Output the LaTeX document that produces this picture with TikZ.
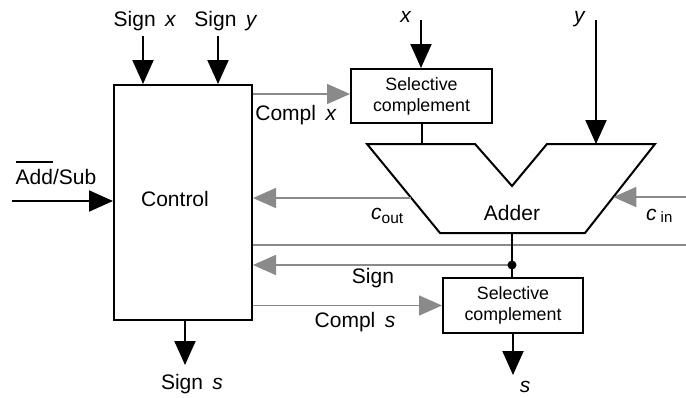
\documentclass[tikz,border=0pt]{standalone}
\usepackage{fontspec}
\setmainfont{Liberation Sans}
\usetikzlibrary{arrows.meta,calc}
\definecolor{grayc}{HTML}{8A8A8A}
\newcommand\lblgap{\hspace{0.45em}}
\begin{document}
\begin{tikzpicture}[x=1pt,y=-1pt,
 blk/.style={line width=2pt, -{Triangle[length=24pt,width=21pt]}},
 blkline/.style={line width=2pt},
 gry/.style={draw=grayc, color=grayc, line width=1.6pt, -{Triangle[length=23pt,width=20pt]}},
 grayline/.style={draw=grayc, line width=1.6pt},
 lbl/.style={font=\fontsize{21}{25}\selectfont, inner sep=0pt, anchor=base},
 box/.style={draw, line width=2pt, inner sep=0pt, font=\fontsize{17.8}{21}\selectfont, align=center},
]
\useasboundingbox (0,0) rectangle (686,397);

% blocks
\node[box, minimum width=138pt, minimum height=235pt] (ctrl) at (183,202.5) {};
\node[lbl] (ctrltxt) at (175,206.7) {Control};
\node[box, minimum width=141pt, minimum height=54pt] (sc1) at (421.5,96) {Selective\\complement};
\node[box, minimum width=140pt, minimum height=55pt] (sc2) at (513,305.5) {Selective\\complement};

% adder
\coordinate (a1) at (367,144);
\coordinate (a2) at (475,144);
\coordinate (a3) at (512,186);
\coordinate (a4) at (547,144);
\coordinate (a5) at (655,144);
\coordinate (a6) at (585,233);
\coordinate (a7) at (440,233);
\draw[blkline, line join=miter] (a1)--(a2)--(a3)--(a4)--(a5)--(a6)--(a7)--cycle;
\node[lbl] (ladd) at (512,220) {Adder};

% inputs to control
\coordinate (sxs) at (143,36);
\draw[blk] (sxs) -- (sxs |- ctrl.north);
\coordinate (sys) at (218,36);
\draw[blk] (sys) -- (sys |- ctrl.north);
\coordinate (as) at (12,201);
\draw[blk] (as) -- (as -| ctrl.west);

% x and y
\coordinate (xs) at (421,20);
\draw[blk] (xs) -- (xs |- sc1.north);
\coordinate (ys) at (596,20);
\draw[blk] (ys) -- (ys |- a1);
\draw[blkline] (sc1.south) -- (sc1.south |- a1);

% gray control lines
\coordinate (cxy) at (0,94);
\draw[gry] (ctrl.east |- cxy) -- (sc1.west |- cxy);
\coordinate (co) at ($(a1)!0.607!(a7)$);
\draw[gry] (co) -- (co -| ctrl.east);
\coordinate (cin) at (686,197);
\coordinate (ci) at ($(a5)!0.596!(a6)$);
\draw[gry] (cin) -- (ci);
\coordinate (gl) at (686,245);
\draw[grayline] (gl -| ctrl.east) -- (gl);

% adder output
\coordinate (ao) at (512,233);
\coordinate (dt) at (512,265);
\draw[gry] (dt) -- (dt -| ctrl.east);
\draw[blkline] (ao) -- (ao |- sc2.north);
\fill (dt) circle (4.5pt);
\draw[gry] (ctrl.east |- sc2.west) -- (sc2.west);
\coordinate (so) at (514,375);
\draw[blk] (sc2.south) -- (sc2.south |- so);
\coordinate (ss) at (185,365);
\draw[blk] (ss |- ctrl.south) -- (ss);

% labels
\node[lbl] (lsx) at (145,26) {Sign\lblgap\textit{x}};
\node[lbl] (lsy) at (226,26) {Sign\lblgap\textit{y}};
\node[lbl] (lx) at (406,22) {\textit{x}};
\node[lbl] (ly) at (580,22) {\textit{y}};
\node[lbl] (lcx) at (296,120.7) {Compl\lblgap\textit{x}};
\node[lbl] (las) at (56,184) {\setbox0\hbox{Add}\rlap{\rule[21.5pt]{\wd0}{1.2pt}}\box0/Sub};
\node[lbl, anchor=base west] (lco) at (371,219) {\textit{c}\raisebox{-4pt}{\fontsize{15.5}{18}\selectfont out}};
\node[lbl, anchor=base west] (lci) at (646,220) {\textit{c}\hspace{4pt}\raisebox{-2pt}{\fontsize{15}{18}\selectfont in}};
\node[lbl] (lsg) at (373,283) {Sign};
\node[lbl] (lcs) at (355,327) {Compl\lblgap\textit{s}};
\node[lbl] (lss) at (192,389) {Sign\lblgap\textit{s}};
\node[lbl] (ls) at (525,392) {\textit{s}};
\end{tikzpicture}
\end{document}
